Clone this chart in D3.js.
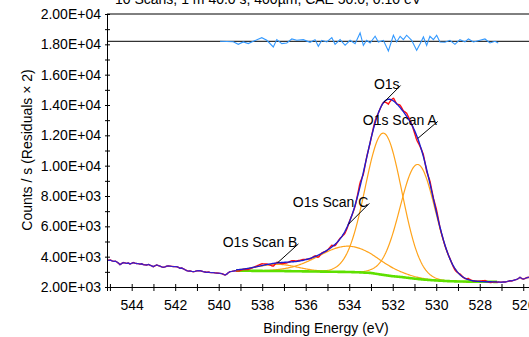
<!DOCTYPE html>
<html><head><meta charset="utf-8">
<script src="https://cdn.jsdelivr.net/npm/d3@7"></script>
<style>body{margin:0;background:#fff;overflow:hidden}svg{display:block}text{font-family:"Liberation Sans",Arial,sans-serif;fill:#000}</style>
</head><body>
<svg id="c" width="529" height="337"></svg>
<script>
// ---------- data ----------
const titleText = "10 Scans,  1 m 40.0 s,  400µm,  CAE 50.0,  0.10 eV";
const xLabel = "Binding Energy (eV)";
const yLabel = "Counts / s  (Residuals × 2)";
const xMajorTicks = [544, 542, 540, 538, 536, 534, 532, 530, 528, 526];
const xMinorTicks = [545, 543, 541, 539, 537, 535, 533, 531, 529, 527, 525];
const yMajorTicks = [2000, 4000, 6000, 8000, 10000, 12000, 14000, 16000, 18000, 20000];
const yTickLabels = ["2.00E+03", "4.00E+03", "6.00E+03", "8.00E+03", "1.00E+04", "1.20E+04", "1.40E+04", "1.60E+04", "1.80E+04", "2.00E+04"];
const yMinorTicks = [3000, 5000, 7000, 9000, 11000, 13000, 15000, 17000, 19000];

// fitted components (above background)
const compNames = ["O1s", "O1s Scan A", "O1s Scan C", "O1s Scan B"];
const compCenters = [532.42, 530.85, 534.04, 537.3];
const compHeights = [9350, 7550, 1700, 440];
const compFWHM = [1.97, 1.92, 3.2, 2.2];

// Shirley-type background
const bgBE = [539.2, 538.0, 537.0, 536.0, 535.0, 534.0, 533.5, 533.0, 532.5, 532.0, 531.5, 531.0, 530.5, 530.0, 529.5, 529.0, 528.0, 527.2];
const bgCounts = [3075, 3060, 3050, 3030, 3010, 2990, 2965, 2925, 2810, 2710, 2640, 2550, 2480, 2430, 2390, 2365, 2345, 2340];

// raw spectrum outside the fit region
const leftBE = [545.13, 545.05, 544.98, 544.90, 544.83, 544.75, 544.68, 544.60, 544.54, 544.47, 544.39, 544.32, 544.24, 544.16, 544.08, 544.01, 543.93, 543.85, 543.77, 543.70, 543.62, 543.54, 543.47, 543.39, 543.31, 543.23, 543.16, 543.08, 543.01, 542.93, 542.85, 542.77, 542.70, 542.62, 542.55, 542.47, 542.39, 542.32, 542.24, 542.16, 542.08, 542.01, 541.93, 541.85, 541.78, 541.70, 541.62, 541.55, 541.47, 541.39, 541.32, 541.24, 541.17, 541.09, 541.01, 540.94, 540.86, 540.78, 540.71, 540.63, 540.55, 540.47, 540.40, 540.32, 540.25, 540.17, 540.09, 540.01, 539.94, 539.86, 539.79, 539.71, 539.63, 539.56, 539.48, 539.40, 539.33, 539.25];
const leftCounts = [3790, 3760, 3775, 3720, 3690, 3700, 3650, 3560, 3470, 3540, 3610, 3590, 3560, 3580, 3520, 3560, 3610, 3570, 3550, 3540, 3510, 3530, 3480, 3460, 3450, 3490, 3440, 3390, 3340, 3400, 3450, 3410, 3380, 3330, 3300, 3330, 3370, 3390, 3380, 3360, 3350, 3345, 3340, 3290, 3235, 3250, 3200, 3140, 3080, 3050, 3060, 3030, 3010, 3030, 3060, 3070, 3075, 3040, 3010, 2990, 2970, 2985, 2960, 2950, 2945, 2930, 2920, 2910, 2900, 2880, 2840, 2790, 2850, 2940, 3010, 3030, 3050, 3070];
const rightBE = [527.15, 527.07, 527.00, 526.91, 526.83, 526.76, 526.68, 526.61, 526.53, 526.45, 526.38, 526.30, 526.22, 526.15, 526.07, 526.00, 525.92, 525.85, 525.77, 525.70, 525.62, 525.55, 525.47, 525.40, 525.32, 525.25];
const rightCounts = [2330, 2320, 2315, 2340, 2330, 2350, 2380, 2410, 2400, 2440, 2470, 2500, 2560, 2640, 2560, 2520, 2560, 2610, 2640, 2620, 2660, 2680, 2650, 2690, 2700, 2710];

// residuals (x2), drawn around an offset line
const residOffset = 18200;
const residBE = [539.94, 539.33, 539.10, 538.87, 538.64, 538.41, 538.02, 537.79, 537.49, 537.33, 537.10, 536.87, 536.64, 536.41, 536.11, 535.80, 535.57, 535.42, 535.26, 535.03, 534.80, 534.65, 534.42, 534.19, 533.96, 533.73, 533.50, 533.35, 533.20, 533.04, 532.81, 532.66, 532.43, 532.20, 531.97, 531.82, 531.66, 531.51, 531.36, 531.13, 530.90, 530.74, 530.59, 530.44, 530.29, 530.13, 529.98, 529.83, 529.60, 529.37, 529.14, 528.91, 528.68, 528.52, 528.29, 527.99, 527.76, 527.53, 527.30, 527.15];
const residVals = [0, -30, -200, -40, -150, 0, 240, 65, -375, 110, -150, -110, 155, 65, 110, -65, 110, -330, 65, -44, 240, -200, 110, -265, 65, -155, 550, -265, 65, -110, 330, -44, 65, -640, 400, -44, 330, 110, 400, 65, -595, -155, 285, -265, 330, 110, 400, -44, -65, 65, -200, 110, -44, 155, -44, 65, 155, -110, 0, -110];

const fitStart = 539.2, fitEnd = 527.2;

// ---------- layout ----------
const W = 529, H = 337;
const plot = {left: 107, right: 540, top: 14, bottom: 287};
const labelOffsets = [[17, -17], [20, -17], [21, -21], [21, -19]];

const svg = d3.select("#c");
const x = d3.scaleLinear().domain([545.135, 525.23]).range([plot.left, plot.right]);
const y = d3.scaleLinear().domain([2000, 20000]).range([plot.bottom, plot.top]);

const bg = d3.scaleLinear().domain(bgBE).range(bgCounts);
const resid = d3.scaleLinear().domain(residBE).range(residVals).clamp(true);
const comp = (be, i) => compHeights[i] * Math.exp(-4 * Math.LN2 * Math.pow((be - compCenters[i]) / compFWHM[i], 2));
const env = be => bg(be) + d3.sum(compCenters, (c, i) => comp(be, i));

const grid = d3.range(fitStart, fitEnd - 1e-9, -0.04);

svg.append("defs").append("clipPath").attr("id", "clip")
  .append("rect").attr("x", plot.left).attr("y", plot.top)
  .attr("width", plot.right - plot.left).attr("height", plot.bottom - plot.top);

const g = svg.append("g").attr("clip-path", "url(#clip)");
const line = d3.line().x(d => x(d[0])).y(d => y(d[1]));

// residual zero line and residual trace
g.append("line").attr("x1", plot.left).attr("x2", plot.right)
  .attr("y1", y(residOffset)).attr("y2", y(residOffset))
  .attr("stroke", "#000").attr("stroke-width", 1);
g.append("path").datum(residBE.map((b, i) => [b, residOffset + residVals[i]]))
  .attr("d", line).attr("fill", "none").attr("stroke", "#3399ff").attr("stroke-width", 1.1);

// components
compCenters.forEach((c, i) => {
  g.append("path").datum(grid.map(b => [b, bg(b) + comp(b, i)]))
    .attr("d", line).attr("fill", "none").attr("stroke", "#ffa31a").attr("stroke-width", 1.2);
});
// background
g.append("path").datum(grid.map(b => [b, bg(b)]))
  .attr("d", line).attr("fill", "none").attr("stroke", "#5ee000").attr("stroke-width", 2.6);

// raw data (red) in fit region
const rawFit = grid.map(b => [b, env(b) + resid(b) / 2]);
const leftPts = leftBE.map((b, i) => [b, leftCounts[i]]);
const rightPts = rightBE.map((b, i) => [b, rightCounts[i]]);
g.append("path").datum(leftPts.concat(rawFit, rightPts))
  .attr("d", line).attr("fill", "none").attr("stroke", "#ff1010").attr("stroke-width", 1.4);
// raw data outside region (purple-blue)
[leftPts.concat([[fitStart, rawFit[0][1]]]), [[fitEnd, rawFit[rawFit.length - 1][1]]].concat(rightPts)].forEach(pts => {
  g.append("path").datum(pts).attr("d", line).attr("fill", "none")
    .attr("stroke", "#3a1ecc").attr("stroke-width", 1.3);
});
// envelope
g.append("path").datum(grid.map(b => [b, env(b)]))
  .attr("d", line).attr("fill", "none").attr("stroke", "#1c1cd0").attr("stroke-width", 1.35);

// annotations
compNames.forEach((n, i) => {
  const ax = x(compCenters[i]), ay = y(env(compCenters[i]));
  const ex = ax + labelOffsets[i][0], ey = ay + labelOffsets[i][1];
  svg.append("text").attr("x", ex - 1).attr("y", ey + 3.5).attr("text-anchor", "end")
    .attr("font-size", 14).text(n);
  svg.append("line").attr("x1", ax).attr("y1", ay).attr("x2", ex).attr("y2", ey)
    .attr("stroke", "#000").attr("stroke-width", 1);
});

// frame top
svg.append("line").attr("x1", plot.left).attr("x2", plot.right).attr("y1", plot.top).attr("y2", plot.top)
  .attr("stroke", "#000").attr("stroke-width", 1);

// x axis
svg.append("g").attr("transform", `translate(0,${plot.bottom})`)
  .call(d3.axisBottom(x).tickValues(xMajorTicks).tickFormat(d3.format("d")).tickSize(4).tickPadding(9));
svg.append("g").attr("transform", `translate(0,${plot.bottom})`)
  .call(d3.axisBottom(x).tickValues(xMinorTicks).tickFormat("").tickSize(4).tickSizeOuter(0));
svg.append("g").attr("transform", `translate(0,${plot.bottom})`)
  .call(d3.axisTop(x).tickValues(xMajorTicks.concat(xMinorTicks)).tickFormat("").tickSize(3).tickSizeOuter(0))
  .select(".domain").remove();
// y axis
svg.append("g").attr("transform", `translate(${plot.left},0)`)
  .call(d3.axisLeft(y).tickValues(yMajorTicks).tickFormat((d, i) => yTickLabels[i]).tickSize(2).tickPadding(4).tickSizeOuter(0));
svg.append("g").attr("transform", `translate(${plot.left},0)`)
  .call(d3.axisLeft(y).tickValues(yMinorTicks).tickFormat("").tickSize(2).tickSizeOuter(0))
  .select(".domain").remove();
svg.append("g").attr("transform", `translate(${plot.left},0)`)
  .call(d3.axisRight(y).tickValues(yMajorTicks.concat(yMinorTicks)).tickFormat("").tickSize(3).tickSizeOuter(0))
  .select(".domain").remove();

svg.selectAll(".tick text").attr("font-size", 14).attr("font-family", '"Liberation Sans",Arial,sans-serif').attr("fill", "#000");
svg.selectAll(".domain, .tick line").attr("stroke", "#000");

// titles
svg.append("text").attr("x", 326).attr("y", 333).attr("text-anchor", "middle").attr("font-size", 14).text(xLabel);
svg.append("text").attr("transform", "translate(32,150) rotate(-90)").attr("text-anchor", "middle").attr("font-size", 14).text(yLabel);
svg.append("text").attr("x", 115).attr("y", 3.5).attr("font-size", 14).text(titleText);
</script>
</body></html>
